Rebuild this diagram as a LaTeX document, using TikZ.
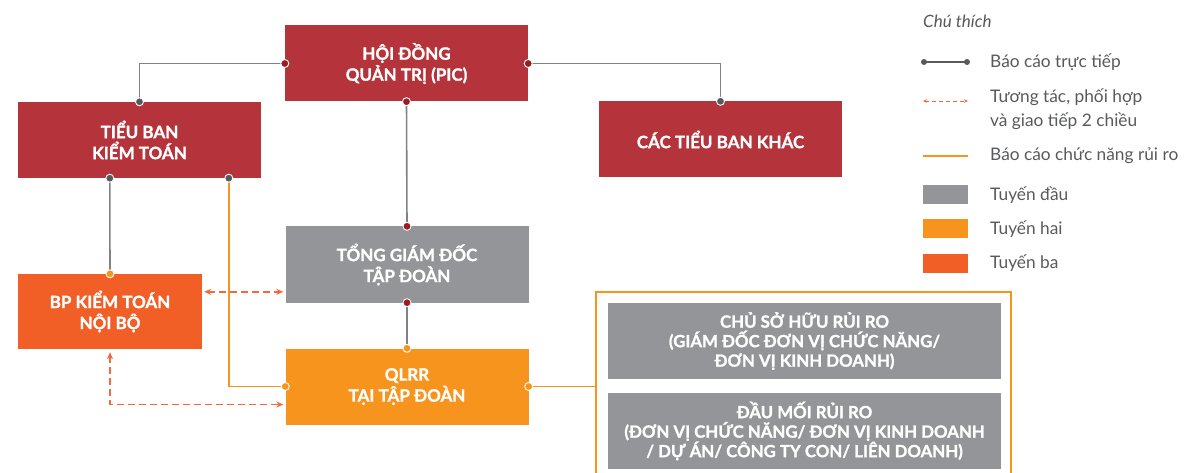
\documentclass[tikz,border=0pt]{standalone}
\usepackage{fontspec}
\setmainfont{Lato}
\newfontfamily\boxfont[FakeBold=1.3]{Lato Bold}
\usetikzlibrary{arrows.meta,calc}
\definecolor{dred}{HTML}{B5333A}
\definecolor{dotred}{HTML}{9E1B22}
\definecolor{lgrey}{HTML}{939598}
\definecolor{lineg}{HTML}{808285}
\definecolor{dkgrey}{HTML}{58595B}
\definecolor{orng}{HTML}{F7941E}
\definecolor{ored}{HTML}{F15F27}
\definecolor{dashc}{HTML}{F26A3A}
\tikzset{
  box/.style={fill=#1, text=white, font=\boxfont\fontsize{17}{21}\selectfont, align=center,
    minimum width=243pt, minimum height=76pt, inner sep=0pt},
  dot/.style={circle, fill=#1, draw=white, line width=0.9pt, inner sep=0pt, minimum size=8pt},
  gline/.style={draw=lineg, line width=1.6pt},
  oline/.style={draw=orng, line width=1.6pt},
  dline/.style={draw=dashc, line width=1.5pt, dash pattern=on 7pt off 4pt,
    {Stealth[length=7pt,width=6pt]}-{Stealth[length=7pt,width=6pt]}},
  legtext/.style={text=dkgrey, font=\fontsize{17.3}{24}\selectfont, anchor=west, align=left, inner sep=0pt},
  legsq/.style={fill=#1, minimum width=45pt, minimum height=19pt, inner sep=0pt, anchor=west}
}
\begin{document}
\begin{tikzpicture}[x=1pt,y=-1pt]
\useasboundingbox (0,0) rectangle (1189,473);
% boxes
\node[box=dred] (hdqt) at (406.5,63.5) {HỘI ĐỒNG\\QUẢN TRỊ (PIC)};
\node[box=dred] (tb) at (139.5,140) {TIỂU BAN\\KIỂM TOÁN};
\node[box=dred] (khac) at (720.5,139.5) {CÁC TIỂU BAN KHÁC};
\node[box=lgrey] (tgd) at (407,264.5) {TỔNG GIÁM ĐỐC\\TẬP ĐOÀN};
\node[box=orng] (qlrr) at (407,386.5) {QLRR\\TẠI TẬP ĐOÀN};
\node[box=ored, minimum width=184pt, minimum height=75pt] (bp) at (110,311.5) {BP KIỂM TOÁN\\NỘI BỘ};
\node[minimum width=415pt, minimum height=190pt, inner sep=0pt] (frame) at (803.5,387) {};
\node[box=lgrey, minimum width=393pt, font=\boxfont\fontsize{16.8}{19.5}\selectfont] (own) at (804.5,341) {CHỦ SỞ HỮU RỦI RO\\(GIÁM ĐỐC ĐƠN VỊ CHỨC NĂNG/\\ĐƠN VỊ KINH DOANH)};
\node[box=lgrey, minimum width=393pt, font=\boxfont\fontsize{16.8}{19.5}\selectfont] (focal) at (804.5,431) {ĐẦU MỐI RỦI RO\\(ĐƠN VỊ CHỨC NĂNG/ ĐƠN VỊ KINH DOANH\\/ DỰ ÁN/ CÔNG TY CON/ LIÊN DOANH)};
% frame (open at bottom)
\draw[oline] (frame.south west) -- (frame.north west) -- (frame.north east) -- (frame.south east);
% coordinates
\coordinate (tbA) at ($(tb.south west)+(92,0)$);
\coordinate (tbB) at ($(tb.south west)+(211,0)$);
% grey connectors
\draw[gline] (hdqt.west) -| (tb.north);
\draw[gline] (hdqt.east) -| (khac.north);
\draw[gline] (hdqt.south) -- (tgd.north);
\draw[gline] (tbA) -- (bp.north);
\draw[gline] (tgd.south) -- (qlrr.north);
% orange connectors
\draw[oline] (tbB) |- (qlrr.west);
\draw[oline] (qlrr.east) -- (qlrr.east -| frame.west);
% dashed
\draw[dline] ($(bp.north east)+(2,18)$) -- ($(tgd.north west |- bp.north east)+(-2,18)$);
\draw[dline] ($(bp.south)+(0,3)$) |- ($(qlrr.west)+(-2,18)$);
% dots
\node[dot=dotred] (d1) at (hdqt.west) {};
\node[dot=dotred] (d2) at (hdqt.east) {};
\node[dot=dotred] (d3) at (hdqt.south) {};
\node[dot=dkgrey] (d4) at (tb.north) {};
\node[dot=dkgrey] (d5) at (khac.north) {};
\node[dot=dkgrey] (d6) at (tbA) {};
\node[dot=dkgrey] (d7) at (tbB) {};
\node[dot=dotred] (d8) at (tgd.north) {};
\node[dot=dotred] (d9) at (tgd.south) {};
\node[dot=orng] (d10) at (bp.north) {};
\node[dot=orng] (d11) at (qlrr.north) {};
\node[dot=orng] (d12) at (qlrr.west) {};
\node[dot=orng] (d13) at (qlrr.east) {};
% legend
\node[legtext, font=\itshape\fontsize{17}{18}\selectfont] (lt) at (923,21) {Chú thích};
\coordinate (l1a) at (924,62);
\coordinate (l1b) at (967,62);
\draw[draw=dkgrey, line width=1.3pt] (l1a) -- (l1b);
\fill[dkgrey] (l1a) circle (3pt) (l1b) circle (3pt);
\node[legtext] (t1) at (990,62) {Báo cáo trực tiếp};
\coordinate (l2a) at (923,101);
\coordinate (l2b) at (968,101);
\draw[draw=dashc, line width=0.9pt, dash pattern=on 4pt off 3pt, {Stealth[length=4pt,width=3.5pt]}-{Stealth[length=4pt,width=3.5pt]}] (l2a) -- (l2b);
\node[legtext, anchor=north west] (t2) at (990,89) {Tương tác, phối hợp\\và giao tiếp 2 chiều};
\coordinate (l3a) at (923,156);
\coordinate (l3b) at (968,156);
\draw[draw=orng, line width=1.3pt] (l3a) -- (l3b);
\node[legtext] (t3) at (990,156) {Báo cáo chức năng rủi ro};
\node[legsq=lgrey] (s1) at (923,195) {};
\node[legtext] (t4) at (990,195) {Tuyến đầu};
\node[legsq=orng] (s2) at (923,229) {};
\node[legtext] (t5) at (990,229) {Tuyến hai};
\node[legsq=ored] (s3) at (923,263.5) {};
\node[legtext] (t6) at (990,263.5) {Tuyến ba};
\end{tikzpicture}
\end{document}
